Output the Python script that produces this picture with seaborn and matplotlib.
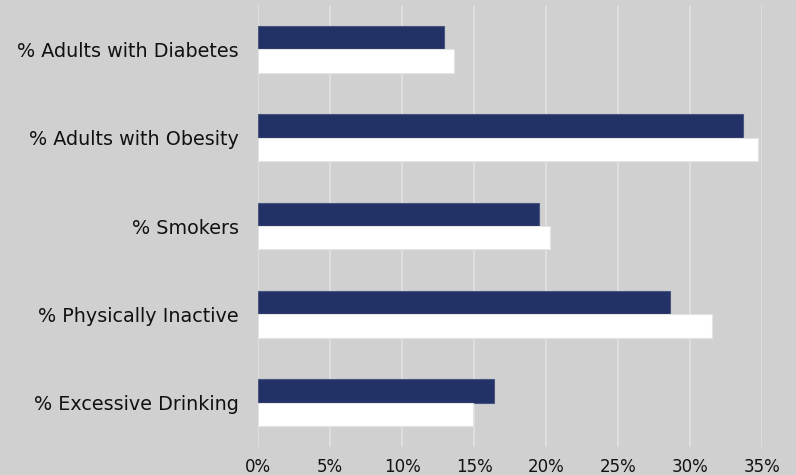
import matplotlib
matplotlib.use("Agg")
import matplotlib.pyplot as plt
import seaborn as sns
import pandas as pd
from matplotlib.ticker import PercentFormatter, MultipleLocator

categories = ["% Adults with Diabetes", "% Adults with Obesity", "% Smokers",
              "% Physically Inactive", "% Excessive Drinking"]
series_a = [12.9, 33.7, 19.5, 28.6, 16.4]
series_b = [13.6, 34.7, 20.3, 31.5, 14.9]
series_names = ["Series A", "Series B"]

df = pd.DataFrame({
    "category": categories * 2,
    "value": series_a + series_b,
    "series": [series_names[0]] * len(categories) + [series_names[1]] * len(categories),
})

sns.set_theme(style="white")
plt.rcParams['font.family'] = ['DejaVu Sans']

bg = "#d0d0d0"
fig = plt.figure(figsize=(7.96, 4.75), dpi=100, facecolor=bg)
ax = fig.add_axes([258/796, 1 - 447/475, (762 - 258)/796, 442/475])
ax.set_facecolor(bg)

sns.barplot(data=df, y="category", x="value", hue="series", order=categories,
            hue_order=series_names, palette=["#223166", "#ffffff"], width=0.53,
            saturation=1, orient="h", ax=ax, legend=False, zorder=3)
for p, ec in zip(ax.patches, ["#4a5680"] * 5 + ["#e4e4e4"] * 5):
    p.set_edgecolor(ec)
    p.set_linewidth(0.8)

ax.set_xlim(0, 35)
ax.set_ylim(4.5, -0.5)
ax.xaxis.set_major_locator(MultipleLocator(5))
ax.xaxis.set_major_formatter(PercentFormatter(decimals=0))
ax.grid(axis="x", color="#e2e2e2", linewidth=1.2, zorder=0)
ax.set_axisbelow(True)
for s in ax.spines.values():
    s.set_visible(False)
ax.set_xlabel("")
ax.set_ylabel("")
ax.tick_params(axis="both", length=0, colors="#111111")
ax.tick_params(axis="x", pad=8, labelsize=12)
ax.tick_params(axis="y", pad=14, labelsize=13.8)

fig.savefig("out.png", dpi=100, facecolor=bg)
